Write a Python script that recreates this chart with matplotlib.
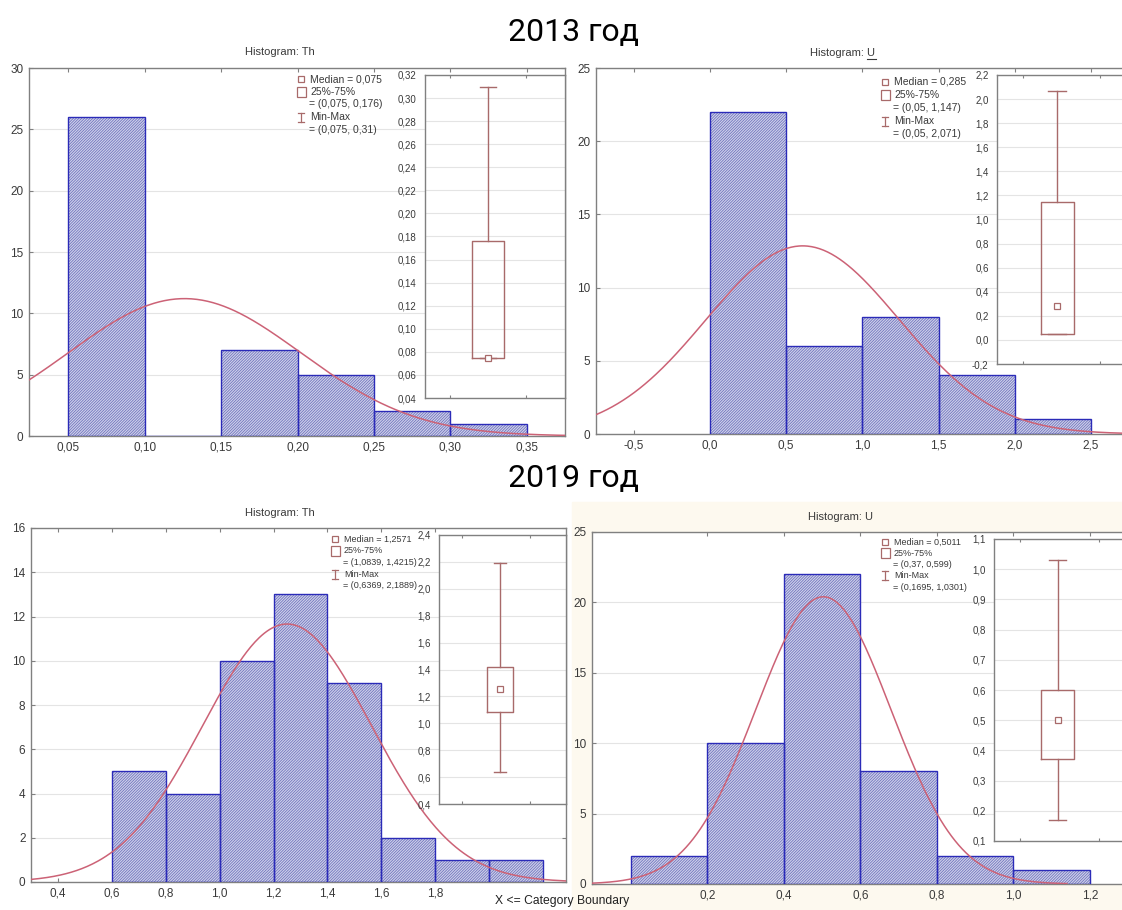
import matplotlib.pyplot as plt
import numpy as np
from matplotlib.lines import Line2D
from matplotlib.patches import Rectangle

plt.rcParams['font.family'] = ['Liberation Sans', 'DejaVu Sans']
plt.rcParams['hatch.linewidth'] = 0.55

W, H = 1122, 910

# ===== data =====
# 2013, Th
th13_edges = [0.05, 0.10, 0.15, 0.20, 0.25, 0.30, 0.35]
th13_counts = [26, 0, 7, 5, 2, 1]
th13_fit = (0.126, 0.076, 11.2)          # mean, sd, peak height of normal curve
th13_box = dict(med=0.075, q1=0.075, q3=0.176, whislo=0.075, whishi=0.31)
th13_xticks = [0.05, 0.10, 0.15, 0.20, 0.25, 0.30, 0.35]
th13_xlabels = ["0,05", "0,10", "0,15", "0,20", "0,25", "0,30", "0,35"]
th13_legend = ["Median = 0,075", "25%-75%", "= (0,075, 0,176)", "Min-Max", "= (0,075, 0,31)"]

# 2013, U
u13_edges = [0.0, 0.5, 1.0, 1.5, 2.0, 2.5]
u13_counts = [22, 6, 8, 4, 1]
u13_fit = (0.609, 0.635, 12.85)
u13_box = dict(med=0.285, q1=0.05, q3=1.147, whislo=0.05, whishi=2.071)
u13_xticks = [-0.5, 0.0, 0.5, 1.0, 1.5, 2.0, 2.5]
u13_xlabels = ["-0,5", "0,0", "0,5", "1,0", "1,5", "2,0", "2,5"]
u13_legend = ["Median = 0,285", "25%-75%", "= (0,05, 1,147)", "Min-Max", "= (0,05, 2,071)"]

# 2019, Th
th19_edges = [0.6, 0.8, 1.0, 1.2, 1.4, 1.6, 1.8, 2.0, 2.2]
th19_counts = [5, 4, 10, 13, 9, 2, 1, 1]
th19_fit = (1.25, 0.313, 11.66)
th19_box = dict(med=1.2571, q1=1.0839, q3=1.4215, whislo=0.6369, whishi=2.1889)
th19_xticks = [0.4, 0.6, 0.8, 1.0, 1.2, 1.4, 1.6, 1.8]
th19_xlabels = ["0,4", "0,6", "0,8", "1,0", "1,2", "1,4", "1,6", "1,8"]
th19_legend = ["Median = 1,2571", "25%-75%", "= (1,0839, 1,4215)", "Min-Max", "= (0,6369, 2,1889)"]

# 2019, U
u19_edges = [0.0, 0.2, 0.4, 0.6, 0.8, 1.0, 1.2]
u19_counts = [2, 10, 22, 8, 2, 1]
u19_fit = (0.503, 0.177, 20.4)
u19_box = dict(med=0.5011, q1=0.37, q3=0.599, whislo=0.1695, whishi=1.0301)
u19_xticks = [0.2, 0.4, 0.6, 0.8, 1.0, 1.2]
u19_xlabels = ["0,2", "0,4", "0,6", "0,8", "1,0", "1,2"]
u19_legend = ["Median = 0,5011", "25%-75%", "= (0,37, 0,599)", "Min-Max", "= (0,1695, 1,0301)"]

# ===== style =====
BAR_FACE = '#cfd1ea'
HATCH_COL = '#6b6fbb'
BAR_EDGE = '#2b2bb8'
CURVE = '#cc6276'
BOXC = '#a86a6a'
SPINE = '#808080'
GRID = '#e4e4e4'
TXT = '#3a3a3a'


def frac(x0, y0, x1, y1):
    # pixel box -> figure fraction rect
    return [x0 / W, 1 - y1 / H, (x1 - x0) / W, (y1 - y0) / H]


def fmt(v, nd):
    return ("%.*f" % (nd, v)).replace(".", ",")


def style_axes(ax, fs):
    for s in ax.spines.values():
        s.set_color(SPINE)
        s.set_linewidth(1)
    ax.tick_params(direction='in', length=3, width=0.8, color=SPINE,
                   top=True, right=True, labelsize=fs, labelcolor=TXT, pad=4)
    ax.yaxis.grid(True, color=GRID, lw=0.8)
    ax.set_axisbelow(True)


def panel(fig, rect, edges, counts, fit, xlim, curve_end, xticks, xlabels, ylim, yticks):
    ax = fig.add_axes(rect)
    style_axes(ax, 8.5)
    lefts = edges[:-1]
    widths = np.diff(edges)
    ax.bar(lefts, counts, width=widths, align='edge', color=BAR_FACE,
           edgecolor=HATCH_COL, hatch='////////////', lw=0, zorder=2)
    ax.bar(lefts, counts, width=widths, align='edge', fill=False,
           edgecolor=BAR_EDGE, lw=1, zorder=3)
    mu, sd, peak = fit
    xs = np.linspace(xlim[0], curve_end, 400)
    ax.plot(xs, peak * np.exp(-0.5 * ((xs - mu) / sd) ** 2), color=CURVE, lw=1.1, zorder=4)
    ax.set_xlim(xlim)
    ax.set_ylim(ylim)
    ax.set_xticks(xticks)
    ax.set_xticklabels(xlabels)
    ax.set_yticks(yticks)
    ax.set_yticklabels([str(v) for v in yticks])
    return ax


def inset(fig, rect, box, ylim, yticks, nd, bx, bw, cw):
    ax = fig.add_axes(rect)
    ax.set_facecolor('white')
    for s in ax.spines.values():
        s.set_color(SPINE)
        s.set_linewidth(1)
    ax.yaxis.grid(True, color=GRID, lw=0.8)
    ax.set_axisbelow(True)
    st = dict(box)
    st['mean'] = box['med']
    ax.bxp([st], positions=[bx], widths=bw, capwidths=cw, showmeans=True,
           showfliers=False, boxprops=dict(color=BOXC, lw=1),
           whiskerprops=dict(color=BOXC, lw=1), capprops=dict(color=BOXC, lw=1),
           medianprops=dict(lw=0),
           meanprops=dict(marker='s', mfc='white', mec=BOXC, ms=4, mew=0.9))
    ax.set_xlim(0, 1)
    ax.set_ylim(ylim)
    ax.set_yticks(yticks)
    ax.set_yticklabels([fmt(v, nd) for v in yticks])
    ax.set_xticks([0.18, 0.72])
    ax.tick_params(axis='x', direction='in', length=2, color=SPINE,
                   top=True, labelbottom=False)
    ax.tick_params(axis='y', length=0, labelsize=7, labelcolor=TXT, pad=6)
    return ax


def legend(fig, x, y0, dy, lines, fs):
    tx = x + 9
    ys = [y0 + i * dy for i in range(5)]
    # median marker
    fig.add_artist(Line2D([x / W], [1 - ys[0] / H], marker='s', ms=4, mfc='white',
                          mec=BOXC, mew=0.9, transform=fig.transFigure))
    # 25-75 box
    fig.add_artist(Rectangle(((x - 4.5) / W, 1 - (ys[1] + 5) / H), 9 / W, 10 / H,
                             fill=False, ec=BOXC, lw=0.9, transform=fig.transFigure))
    # min-max I-beam
    yb, yt = 1 - (ys[3] + 4.5) / H, 1 - (ys[3] - 4.5) / H
    for seg in ([(x, x), (yb, yt)], [(x - 3, x + 3), (yb, yb)], [(x - 3, x + 3), (yt, yt)]):
        fig.add_artist(Line2D([seg[0][0] / W, seg[0][1] / W], list(seg[1]),
                              color=BOXC, lw=0.9, transform=fig.transFigure))
    for i, t in enumerate(lines):
        xx = tx if i in (0, 1, 3) else tx - 1
        fig.text(xx / W, 1 - ys[i] / H, t, fontsize=fs, color=TXT, va='center', ha='left')


fig = plt.figure(figsize=(W / 100, H / 100), dpi=100)
fig.patch.set_facecolor('white')

# cream background behind the last screenshot
fig.add_artist(Rectangle((572 / W, 0), 1 - 572 / W, 408 / H, color='#fdf9ef',
                         transform=fig.transFigure, zorder=-5))

# ---- 2013 Th ----
a1 = panel(fig, frac(29, 68, 565, 436), th13_edges, th13_counts, th13_fit,
           (0.0242, 0.375), 0.375, th13_xticks, th13_xlabels, (0, 30), [0, 5, 10, 15, 20, 25, 30])
inset(fig, frac(425, 75, 565, 398), th13_box, (0.04, 0.32),
      [0.04 + 0.02 * i for i in range(15)], 2, 0.45, 0.235, 0.12)
legend(fig, 301, 79, 12.7, th13_legend, 7.5)

# ---- 2013 U ----
a2 = panel(fig, frac(596, 68, 1140, 434), u13_edges, u13_counts, u13_fit,
           (-0.746, 2.821), 2.821, u13_xticks, u13_xlabels, (0, 25), [0, 5, 10, 15, 20, 25])
inset(fig, frac(997, 75, 1140, 364), u13_box, (-0.2, 2.2),
      [-0.2 + 0.2 * i for i in range(13)], 1, 0.42, 0.23, 0.12)
legend(fig, 885, 82, 13, u13_legend, 7.5)

# ---- 2019 Th ----
a3 = panel(fig, frac(31, 528, 566, 882), th19_edges, th19_counts, th19_fit,
           (0.30, 2.285), 2.285, th19_xticks, th19_xlabels, (0, 16), [0, 2, 4, 6, 8, 10, 12, 14, 16])
inset(fig, frac(439, 535, 566, 804), th19_box, (0.4, 2.4),
      [0.4 + 0.2 * i for i in range(11)], 1, 0.48, 0.21, 0.1)
legend(fig, 335, 539, 11.7, th19_legend, 6.5)

# ---- 2019 U ----
a4 = panel(fig, frac(592, 532, 1140, 884), u19_edges, u19_counts, u19_fit,
           (-0.102, 1.331), 1.14, u19_xticks, u19_xlabels, (0, 25), [0, 5, 10, 15, 20, 25])
inset(fig, frac(994, 539, 1140, 841), u19_box, (0.1, 1.1),
      [0.1 + 0.1 * i for i in range(11)], 1, 0.435, 0.23, 0.12)
legend(fig, 885, 542, 11.3, u19_legend, 6.5)

# ---- titles ----
fig.text(574 / W, 1 - 33 / H, "2013 год", fontsize=23, family='Roboto', ha='center', va='center')
fig.text(574 / W, 1 - 478 / H, "2019 год", fontsize=23, family='Roboto', ha='center', va='center')
fig.text(280 / W, 1 - 52 / H, "Histogram: Th", fontsize=8, color=TXT, ha='center', va='center')
tu = fig.text(843 / W, 1 - 53 / H, "Histogram: U", fontsize=8, color=TXT, ha='center', va='center')
fig.text(280 / W, 1 - 513 / H, "Histogram: Th", fontsize=8, color=TXT, ha='center', va='center')
fig.text(841 / W, 1 - 517 / H, "Histogram: U", fontsize=8, color=TXT, ha='center', va='center')
fig.text(562 / W, 1 - 901 / H, "X <= Category Boundary", fontsize=8.7, color='#222222',
         ha='center', va='center')

# underline the U in the 2013 title
fig.canvas.draw()
bb = tu.get_window_extent()
ux1 = bb.x1 / W
ux0 = (bb.x1 - 0.13 * bb.width) / W
uy = (bb.y0 - 1) / H
fig.add_artist(Line2D([ux0, ux1], [uy, uy], color=TXT, lw=0.8, transform=fig.transFigure))

fig.savefig('out.png', dpi=100)
